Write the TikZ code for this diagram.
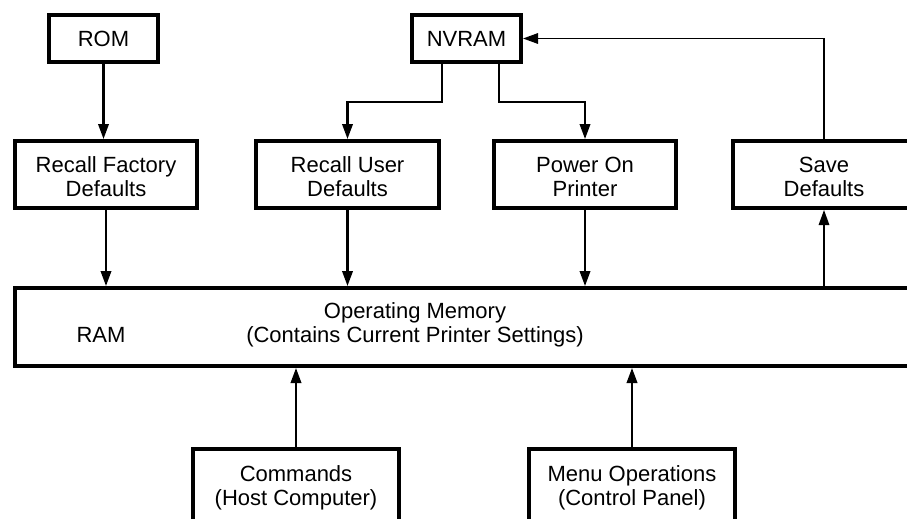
\documentclass[tikz,border=0pt]{standalone}
\usepackage{fontspec}
\setmainfont{Liberation Sans}
\usetikzlibrary{arrows.meta}
\newcommand\tstrut{\rule{0pt}{21pt}}
\begin{document}
\begin{tikzpicture}[x=1pt,y=-1pt,
  box/.style={draw, line width=3.8pt, inner sep=0pt, align=center, font=\fontsize{22}{24}\selectfont},
  lbl/.style={inner sep=0pt, align=center, font=\fontsize{22}{24}\selectfont},
  arr/.style={line width=2.1pt, -{Triangle[length=15pt,width=10.5pt]}},
  thinarr/.style={line width=1.5pt, -{Triangle[length=15pt,width=10.5pt]}}]
\useasboundingbox (0,0) rectangle (907,519);
\clip (0,0) rectangle (907,519);
% boxes
\node[box, minimum width=109.2pt, minimum height=47.2pt] (rom) at (103.5,38.5) {ROM};
\node[box, minimum width=109.2pt, minimum height=47.2pt] (nv) at (466.5,38.5) {NVRAM};
\node[box, minimum width=182.2pt, minimum height=67.2pt] (rfd) at (106,174.5) {\tstrut Recall Factory\\Defaults};
\node[box, minimum width=183.2pt, minimum height=67.2pt] (rud) at (347.5,174.5) {\tstrut Recall User\\Defaults};
\node[box, minimum width=182.2pt, minimum height=67.2pt] (pop) at (585,174.5) {\tstrut Power On\\Printer};
\node[box, minimum width=182.2pt, minimum height=67.2pt] (sd) at (824,174.5) {\tstrut Save\\Defaults};
\node[box, minimum width=915pt, minimum height=78.2pt] (ram) at (472.5,327) {};
\node[lbl] (ramlbl) at (101,335.3) {RAM};
\node[lbl] (opm) at (415,322.7) {\tstrut Operating Memory\\(Contains Current Printer Settings)};
\node[box, minimum width=206.2pt, minimum height=73.6pt] (cmd) at (296,485.7) {\tstrut Commands\\(Host Computer)};
\node[box, minimum width=206.2pt, minimum height=73.6pt] (menu) at (632,485.7) {\tstrut Menu Operations\\(Control Panel)};
% connectors
\draw[arr] (rom.south) -- (rom.south |- rfd.north);
\draw[arr] (rfd.south) -- (rfd.south |- ram.north);
\draw[arr] (rud.south) -- (rud.south |- ram.north);
\draw[arr] (pop.south) -- (pop.south |- ram.north);
\draw[thinarr] (sd.south |- ram.north) -- (sd.south);
\draw[thinarr] (sd.north) |- (nv.east);
\draw[arr] ([xshift=-24.5pt]nv.south) -- ++(0,38) -| (rud.north);
\draw[arr] ([xshift=32.5pt]nv.south) -- ++(0,38) -| (pop.north);
\draw[arr] (cmd.north) -- (cmd.north |- ram.south);
\draw[arr] (menu.north) -- (menu.north |- ram.south);
\end{tikzpicture}
\end{document}
